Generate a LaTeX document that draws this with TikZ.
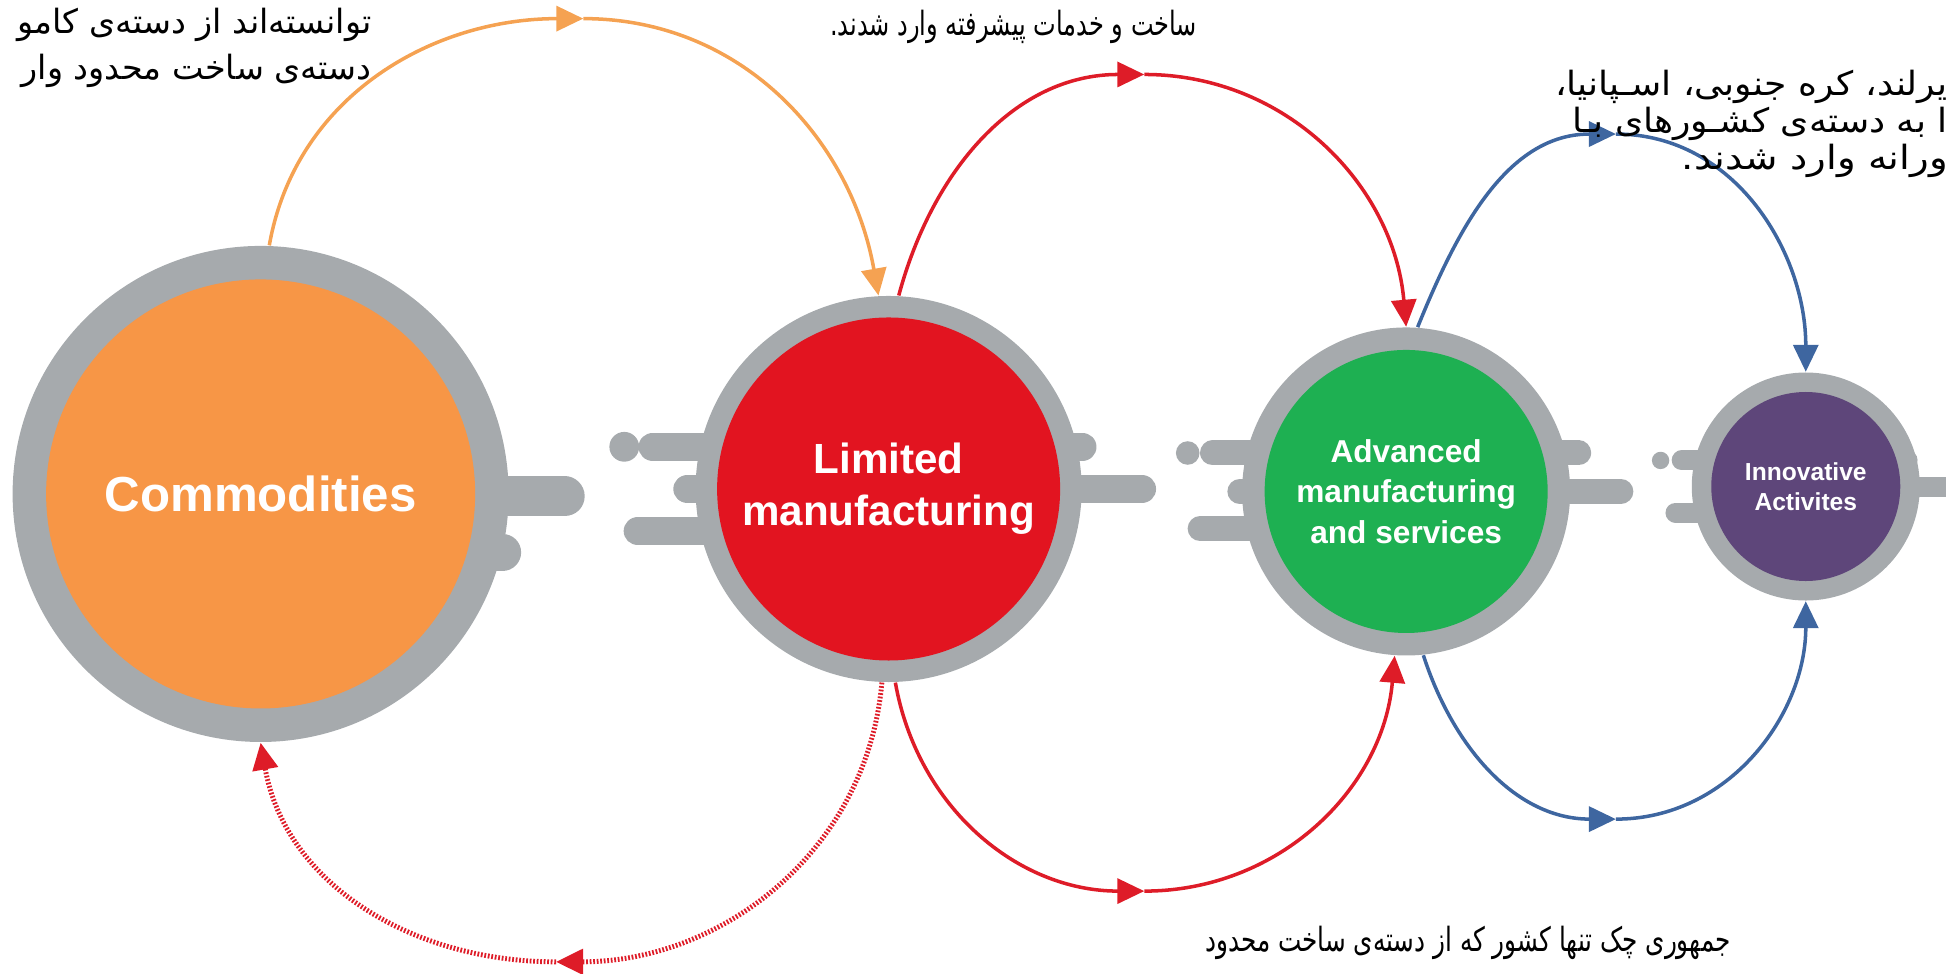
\documentclass[tikz,border=0pt]{standalone}
\usepackage{fontspec}
\usepackage{graphicx}
\newfontfamily\farsi[Script=Arabic]{DejaVu Sans}
\newfontfamily\labfont{Liberation Sans}
\TeXXeTstate=1
\usetikzlibrary{arrows.meta,positioning}
\definecolor{ringgrey}{RGB}{166,170,173}
\definecolor{commorange}{RGB}{247,150,70}
\definecolor{limred}{RGB}{226,20,32}
\definecolor{advgreen}{RGB}{30,176,82}
\definecolor{innpurple}{RGB}{94,70,122}
\definecolor{arcorange}{RGB}{245,162,82}
\definecolor{arcred}{RGB}{222,28,40}
\definecolor{arcblue}{RGB}{62,102,160}
\tikzstyle{ring}=[circle, fill=ringgrey, inner sep=0pt]
\tikzstyle{core}=[circle, inner sep=0pt, text=white, align=center]
\tikzstyle{tab}=[draw=ringgrey, line cap=round]
\tikzstyle{flow}=[line width=1pt, -{Triangle[length=2.7mm,width=2.5mm]}]
\tikzstyle{note}=[inner sep=0pt, anchor=east, font=\farsi\fontsize{9.5}{12}\selectfont]

\begin{document}
\begin{tikzpicture}[x=0.1241mm, y=0.1241mm]
    \useasboundingbox (0,0) rectangle (1568,784);
    \clip (0,0) rectangle (1568,784);

    % grey tabs behind the rings
    \draw[tab, line width=4mm] (300,384) -- (455,384);
    \draw[tab, line width=3.7mm] (300,339) -- (405,339);

    \fill[ringgrey] (503,424) circle (12);
    \draw[tab, line width=2.85mm] (526,424) -- (650,424);
    \draw[tab, line width=2.85mm] (554,390) -- (650,390);
    \draw[tab, line width=2.85mm] (514,356) -- (650,356);
    \draw[tab, line width=2.85mm] (780,424) -- (872,424);
    \draw[tab, line width=2.85mm] (780,390) -- (920,390);

    \fill[ringgrey] (957,419) circle (9.5);
    \draw[tab, line width=2.5mm] (977,419) -- (1060,419);
    \draw[tab, line width=2.5mm] (999,388) -- (1060,388);
    \draw[tab, line width=2.5mm] (967,358) -- (1060,358);
    \draw[tab, line width=2.5mm] (1200,419) -- (1272,419);
    \draw[tab, line width=2.5mm] (1200,388) -- (1306,388);

    \fill[ringgrey] (1338,413) circle (7);
    \draw[tab, line width=2mm] (1355,413) -- (1420,413);
    \draw[tab, line width=2mm] (1375,392) -- (1420,392);
    \draw[tab, line width=2mm] (1350,371) -- (1420,371);
    \draw[tab, line width=2mm] (1500,413) -- (1537,413);
    \draw[tab, line width=2mm] (1500,392) -- (1600,392);

    % Place the four stages
    \node[ring, minimum size=49.6mm] (gA) at (210,386) {};
    \node[core, fill=commorange, minimum size=42.9mm, font=\labfont\bfseries\fontsize{14}{16}\selectfont] (A) at (gA) {Commodities};
    \node[ring, minimum size=38.6mm] (gB) at (716,390) {};
    \node[core, fill=limred, minimum size=34.3mm, font=\labfont\bfseries\fontsize{12}{14.8}\selectfont] (B) at (gB) {Limited\\manufacturing};
    \node[ring, minimum size=32.8mm] (gC) at (1133,388) {};
    \node[core, fill=advgreen, minimum size=28.3mm, font=\labfont\bfseries\fontsize{9}{11.5}\selectfont] (C) at (gC) {Advanced\\manufacturing\\and services};
    \node[ring, minimum size=22.8mm] (gD) at (1455,392) {};
    \node[core, fill=innpurple, minimum size=18.9mm, font=\labfont\bfseries\fontsize{7}{8.5}\selectfont] (D) at (gD) {Innovative\\Activites};

    % turning points of the arcs
    \coordinate (pk1) at (470,769);
    \coordinate (pk2) at (922,724);
    \coordinate (pk3) at (1302,676);
    \coordinate (pk4) at (922,66);
    \coordinate (pk5) at (448,9);
    \coordinate (pk6) at (1302,124);

    \draw[flow, arcorange] (gA.88) to[out=80, in=180] (pk1);
    \draw[flow, arcorange] (pk1) to[out=0, in=100] (gB.93);

    \draw[flow, arcred] (gB.87) to[out=75, in=180] (pk2);
    \draw[flow, arcred] (pk2) to[out=0, in=95] (gC.north);

    \draw[flow, arcblue] (gC.86) to[out=68, in=180] (pk3);
    \draw[flow, arcblue] (pk3) to[out=0, in=90] (gD.north);

    \draw[flow, arcred] (gB.272) to[out=-80, in=180] (pk4);
    \draw[flow, arcred] (pk4) to[out=0, in=-95] (gC.266);

    \draw[flow, arcred, line width=1.4pt, dash pattern=on 0.5pt off 0.5pt] (gB.268) to[out=-95, in=0] (pk5);
    \draw[flow, arcred, line width=1.4pt, dash pattern=on 0.5pt off 0.5pt] (pk5) to[out=180, in=-80] (gA.south);

    \draw[flow, arcblue] (gC.276) to[out=-72, in=180] (pk6);
    \draw[flow, arcblue] (pk6) to[out=0, in=-90] (gD.south);

    % clipped notes
    \node[note] (nl1) at (300,764) {\beginR توانسته^^^^200cاند از دسته^^^^200cی کامو\endR};
    \node[note] (nl2) at (300,727) {\beginR دسته^^^^200cی ساخت محدود وار\endR};
    \node[note] (nt) at (965,762) {\scalebox{0.72}[1]{\beginR ساخت و خدمات پیشرفته وارد شدند.\endR}};
    \node[note] (nr1) at (1570,714) {\scalebox{1.08}[1]{\beginR یرلند، کره جنوبی، اسـپانیا،\endR}};
    \node[note] (nr2) at (1570,684) {\scalebox{1.08}[1]{\beginR ا به دسته^^^^200cی کشـورهای بـا\endR}};
    \node[note] (nr3) at (1570,654) {\scalebox{1.16}[1]{\beginR ورانه وارد شدند.\endR}};
    \node[note] (nb) at (1395,24) {\scalebox{0.74}[1]{\beginR جمهوری چک تنها کشور که  از دسته^^^^200cی ساخت محدود\endR}};
\end{tikzpicture}
\end{document}
